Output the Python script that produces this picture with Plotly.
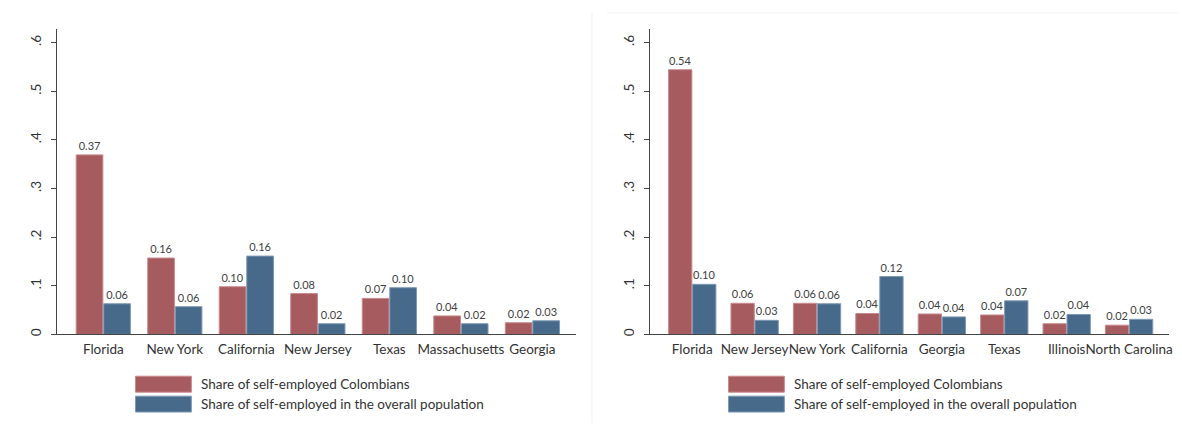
import plotly.graph_objects as go

# ---- data ----
states_left = ["Florida", "New York", "California", "New Jersey", "Texas", "Massachusetts", "Georgia"]
colombians_left = [0.369, 0.157, 0.098, 0.084, 0.074, 0.038, 0.024]
overall_left = [0.063, 0.057, 0.161, 0.022, 0.096, 0.022, 0.028]

states_right = ["Florida", "New Jersey", "New York", "California", "Georgia", "Texas", "Illinois", "North Carolina"]
colombians_right = [0.544, 0.064, 0.064, 0.043, 0.042, 0.040, 0.022, 0.019]
overall_right = [0.103, 0.029, 0.063, 0.119, 0.036, 0.069, 0.041, 0.031]

y_tickvals = [0, 0.1, 0.2, 0.3, 0.4, 0.5, 0.6]
y_ticktext = ["0", ".1", ".2", ".3", ".4", ".5", ".6"]

series_names = ["Share of self-employed Colombians", "Share of self-employed in the overall population"]

RED = "#A65B5F"
BLUE = "#486A8A"
RED_LINE = "#C98A8E"
BLUE_LINE = "#7E9AB5"
FONT = "Lato"
W, H = 1182, 425

fig = go.Figure()


def add_panel(states, red_vals, blue_vals, xa, ya):
    for vals, col, lcol, name in [(red_vals, RED, RED_LINE, series_names[0]),
                                  (blue_vals, BLUE, BLUE_LINE, series_names[1])]:
        fig.add_trace(go.Bar(
            x=states, y=vals, name=name, xaxis=xa, yaxis=ya,
            marker=dict(color=col, line=dict(color=lcol, width=1)),
            texttemplate="%{y:.2f}", textposition="outside",
            textfont=dict(size=11, color="#404040", family=FONT),
            outsidetextfont=dict(size=11, color="#404040", family=FONT),
            cliponaxis=False, showlegend=False,
        ))


add_panel(states_left, colombians_left, overall_left, "x", "y")
add_panel(states_right, colombians_right, overall_right, "x2", "y2")

px = lambda v: v / W
py = lambda v: 1 - v / H

ydom = [py(336), py(29)]
common_x = dict(showline=True, linecolor="#444", linewidth=1, ticks="", showgrid=False,
                zeroline=False, tickfont=dict(size=13.5, color="#333", family=FONT),
                tickangle=0, fixedrange=True, ticklabelstandoff=2)
common_y = dict(showline=True, linecolor="#444", linewidth=1, ticks="outside", ticklen=5,
                tickcolor="#444", tickwidth=1, showgrid=False, zeroline=False,
                tickvals=y_tickvals, ticktext=y_ticktext, tickangle=-90,
                tickfont=dict(size=13.5, color="#333", family=FONT), range=[0, 0.628],
                fixedrange=True, ticklabelstandoff=4)

fig.update_layout(
    width=W, height=H,
    margin=dict(l=0, r=0, t=0, b=0),
    paper_bgcolor="white", plot_bgcolor="white",
    barmode="group", bargap=0.23, bargroupgap=0.03,
    font=dict(family=FONT),
    xaxis=dict(domain=[px(57), px(578)], anchor="y", range=[-0.65, 6.61], **common_x),
    yaxis=dict(domain=ydom, anchor="x", **common_y),
    xaxis2=dict(domain=[px(652), px(1173)], anchor="y2", range=[-0.68, 7.64], **common_x),
    yaxis2=dict(domain=ydom, anchor="x2", **common_y),
)

# faint border of the second panel image
fig.add_shape(type="line", xref="paper", yref="paper", x0=px(594), x1=px(594), y0=0, y1=py(13),
              line=dict(color="#F0F0F0", width=1))
fig.add_shape(type="line", xref="paper", yref="paper", x0=px(609), x1=1, y0=py(13), y1=py(13),
              line=dict(color="#F3F3F3", width=1))

# legends (drawn as boxes + text)
for x0 in [136, 731]:
    for i, (col, lcol, name) in enumerate([(RED, RED_LINE, series_names[0]), (BLUE, BLUE_LINE, series_names[1])]):
        y0 = 378 + i * 20
        fig.add_shape(type="rect", xref="paper", yref="paper",
                      x0=px(x0), x1=px(x0 + 56), y0=py(y0 + 16), y1=py(y0),
                      fillcolor=col, line=dict(color=lcol, width=1))
        fig.add_annotation(xref="paper", yref="paper", x=px(x0 + 64), y=py(y0 + 8),
                           text=name, showarrow=False, xanchor="left", yanchor="middle",
                           font=dict(size=13.5, color="#333", family=FONT))

fig.write_html("out.html", config={"displayModeBar": False, "staticPlot": True},
               post_script="document.body.style.margin='0';document.body.style.overflow='hidden';")
